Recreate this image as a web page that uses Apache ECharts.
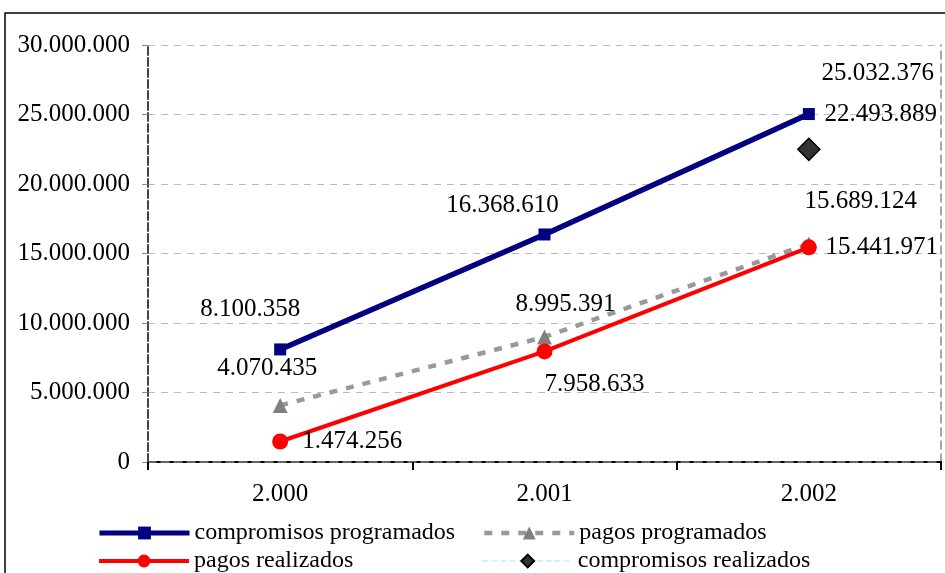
<!DOCTYPE html>
<html>
<head>
<meta charset="utf-8">
<script src="https://cdn.jsdelivr.net/npm/echarts@6/dist/echarts.min.js"></script>
<style>
  html, body { margin: 0; padding: 0; background: #fff; }
  #chart { width: 945px; height: 573px; }
</style>
</head>
<body>
<div id="chart"></div>
<script>
var years = ['2.000', '2.001', '2.002'];
var compromisosProgramados = [8100358, 16368610, 25032376];
var pagosProgramados = [4070435, 8995391, 15689124];
var pagosRealizados = [1474256, 7958633, 15441971];
var compromisosRealizados = ['-', '-', 22493889];

// where Excel put each data label, relative to its point
var offCP = [[-30, -40], [-42, -29], [69, -41]];
var offPP = [[-13, -37], [21, -33], [52, -42]];
var offPR = [[72, 0], [50, 33], [73, 0]];
var offCR = [null, null, [72, -35]];

var FONT = 'Liberation Serif';

function fmt(n) {
    return String(n).replace(/\B(?=(\d{3})+(?!\d))/g, '.');
}

function withLabels(values, offsets) {
    return values.map(function (v, i) {
        if (v === '-') return v;
        return {
            value: v,
            label: {
                show: true,
                position: 'inside',
                offset: offsets[i],
                formatter: function (p) { return fmt(p.value); },
                color: '#000',
                fontFamily: FONT,
                fontSize: 25
            }
        };
    });
}

var dom = document.getElementById('chart');
var myChart = echarts.init(dom);

function legendAt(name, left, top, lineStyle) {
    return {
        data: [name],
        left: left,
        top: top,
        padding: 0,
        itemWidth: 90,
        itemHeight: 16,
        itemGap: 6,
        lineStyle: lineStyle,
        textStyle: { fontFamily: FONT, fontSize: 24, color: '#000' },
        selectedMode: false
    };
}

var option = {
    animation: false,
    backgroundColor: '#fff',
    textStyle: { fontFamily: FONT },
    graphic: [{
        type: 'rect',
        shape: { x: 5, y: 13, width: 1000, height: 1000 },
        style: { fill: null, stroke: '#000', lineWidth: 1.5 },
        silent: true
    }],
    legend: [
        legendAt('compromisos programados', 97, 521, { width: 5 }),
        legendAt('pagos programados', 482, 521, { width: 4.5, type: [8, 9] }),
        legendAt('pagos realizados', 97, 549, { width: 4 }),
        legendAt('compromisos realizados', 482, 549, { width: 1.5 })
    ],
    grid: { left: 148, right: 4, top: 45, bottom: 111 },
    xAxis: [{
        type: 'category',
        data: years,
        boundaryGap: true,
        axisLine: { lineStyle: { color: '#000', width: 2 } },
        axisTick: { show: true, length: 8, lineStyle: { color: '#000', width: 2 } },
        axisLabel: { color: '#000', fontFamily: FONT, fontSize: 25, margin: 20 }
    }, {
        type: 'category',
        data: years,
        position: 'top',
        axisLine: { lineStyle: { color: '#888', width: 1.5, type: [8, 5] } },
        axisTick: { show: false },
        axisLabel: { show: false }
    }],
    yAxis: [{
        type: 'value',
        min: 0,
        max: 30000000,
        interval: 5000000,
        axisLine: { show: true, lineStyle: { color: '#444', width: 2, type: [8, 3] } },
        axisTick: { show: true, length: 6, lineStyle: { color: '#888' } },
        axisLabel: {
            color: '#000', fontFamily: FONT, fontSize: 25, margin: 18,
            formatter: function (v) { return fmt(v); }
        },
        splitLine: { lineStyle: { color: '#bbb', type: [7, 6], width: 1 } }
    }, {
        type: 'value',
        position: 'right',
        min: 0,
        max: 30000000,
        interval: 5000000,
        axisLine: { show: true, lineStyle: { color: '#888', width: 1.5, type: [8, 5] } },
        axisTick: { show: false },
        axisLabel: { show: false },
        splitLine: { show: false }
    }],
    series: [
        {
            name: 'compromisos programados',
            type: 'line',
            data: withLabels(compromisosProgramados, offCP),
            symbol: 'rect',
            symbolSize: 12,
            lineStyle: { color: '#000080', width: 5.5 },
            itemStyle: { color: '#000080' },
            z: 3
        },
        {
            name: 'pagos programados',
            type: 'line',
            data: withLabels(pagosProgramados, offPP),
            symbol: 'triangle',
            symbolSize: 15,
            lineStyle: { color: '#999999', width: 4.5, type: [8, 9] },
            itemStyle: { color: '#808080' },
            z: 4
        },
        {
            name: 'pagos realizados',
            type: 'line',
            data: withLabels(pagosRealizados, offPR),
            symbol: 'circle',
            symbolSize: 16,
            lineStyle: { color: '#ff0000', width: 4 },
            itemStyle: { color: '#ff0000' },
            z: 5
        },
        {
            name: 'compromisos realizados',
            type: 'line',
            data: withLabels(compromisosRealizados, offCR),
            symbol: 'diamond',
            symbolSize: 22,
            lineStyle: { color: '#c6eeee', width: 1, type: 'dashed' },
            itemStyle: { color: '#333333', borderColor: '#000', borderWidth: 1.5 },
            z: 6
        }
    ]
};

if (option && typeof option === 'object') {
    myChart.setOption(option, true);
}
</script>
</body>
</html>
